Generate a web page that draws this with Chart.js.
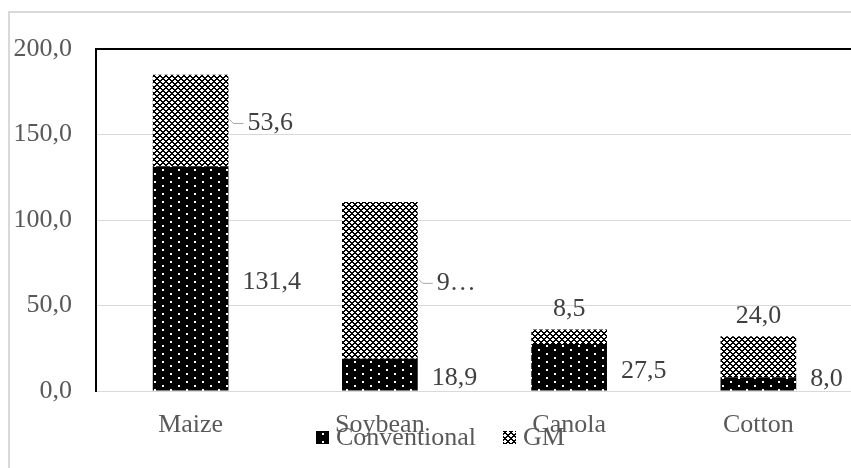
<!DOCTYPE html>
<html>
<head>
<meta charset="utf-8">
<script src="https://cdn.jsdelivr.net/npm/chart.js@4"></script>
<style>
  html, body { margin: 0; padding: 0; overflow: hidden; background: #fff; width: 851px; height: 468px; }
  #frame { position: absolute; left: 8px; top: 11px; width: 900px; height: 500px; border: 2px solid #d9d9d9; }
  #wrap { position: absolute; left: 0; top: 0; width: 870px; height: 468px; }
</style>
</head>
<body>
<div id="frame"></div>
<div id="wrap"><canvas id="chart"></canvas></div>
<script>
const categories = ['Maize', 'Soybean', 'Canola', 'Cotton'];
const conventional = [131.4, 18.9, 27.5, 8.0];
const gm = [53.6, 91.6, 8.5, 24.0];
const gmTruncated = [false, true, false, false];   // Soybean label is cut off in the original
const seriesNames = ['Conventional', 'GM'];
const yMin = 0, yMax = 200, yStep = 50;

const FONT = '"Liberation Serif", "Times New Roman", serif';

function fmt(v) {
  return v.toFixed(1).replace('.', ',');
}

// black with small white dots
function dotPattern() {
  const c = document.createElement('canvas');
  c.width = 16; c.height = 8;
  const g = c.getContext('2d');
  g.fillStyle = '#000';
  g.fillRect(0, 0, 16, 8);
  g.fillStyle = '#fff';
  g.fillRect(2, 1, 2, 2);
  g.fillRect(10, 5, 2, 2);
  return g.createPattern(c, 'repeat');
}

// black diagonal cross-hatch (white diamonds)
function hatchPattern() {
  const c = document.createElement('canvas');
  c.width = 6; c.height = 6;
  const g = c.getContext('2d');
  g.fillStyle = '#fff';
  g.fillRect(0, 0, 6, 6);
  g.fillStyle = '#000';
  for (let x = 0; x < 6; x++) {
    for (let y = 0; y < 6; y++) {
      if ((x + y) % 6 < 2 || (x - y + 6) % 6 < 2) g.fillRect(x, y, 1, 1);
    }
  }
  return g.createPattern(c, 'repeat');
}

const convFill = dotPattern();
const gmFill = hatchPattern();

const labelPlugin = {
  id: 'barLabels',
  afterDatasetsDraw(chart) {
    const ctx = chart.ctx;
    ctx.save();
    ctx.font = '26px ' + FONT;
    ctx.fillStyle = '#404040';
    ctx.textBaseline = 'middle';

    const convMeta = chart.getDatasetMeta(0);
    convMeta.data.forEach((bar, i) => {
      const right = bar.x + bar.width / 2;
      const cy = Math.min((bar.y + bar.base) / 2 + 4, chart.chartArea.bottom - 12);
      ctx.textAlign = 'left';
      ctx.fillText(fmt(conventional[i]), right + 14, cy);
    });

    const gmMeta = chart.getDatasetMeta(1);
    gmMeta.data.forEach((bar, i) => {
      const right = bar.x + bar.width / 2;
      const h = bar.base - bar.y;
      let txt = fmt(gm[i]);
      if (gmTruncated[i]) txt = txt.charAt(0) + '\u2026';
      if (h > 60) {
        const cy = (bar.y + bar.base) / 2 + 3;
        ctx.strokeStyle = '#a6a6a6';
        ctx.lineWidth = 1;
        ctx.beginPath();
        ctx.moveTo(right + 1, cy - 4);
        ctx.lineTo(right + 5, cy);
        ctx.lineTo(right + 15, cy);
        ctx.stroke();
        ctx.textAlign = 'left';
        ctx.fillText(txt, right + 19, cy);
      } else {
        ctx.textAlign = 'center';
        ctx.fillText(txt, bar.x, bar.y - 20);
      }
    });

    // legend
    const fills = [convFill, gmFill];
    const legendX = [316, 503];
    ctx.textAlign = 'left';
    seriesNames.forEach((name, i) => {
      ctx.fillStyle = fills[i];
      ctx.fillRect(legendX[i], 431, 13, 13);
      ctx.fillStyle = '#595959';
      ctx.fillText(name, legendX[i] + 20, 438);
    });
    ctx.restore();
  }
};

new Chart(document.getElementById('chart'), {
  type: 'bar',
  data: {
    labels: categories,
    datasets: [
      { label: seriesNames[0], data: conventional, backgroundColor: convFill, borderWidth: 0 },
      { label: seriesNames[1], data: gm, backgroundColor: gmFill, borderWidth: 0 }
    ]
  },
  options: {
    responsive: true,
    maintainAspectRatio: false,
    devicePixelRatio: 1,
    animation: false,
    layout: { padding: { left: 0, top: 49, right: 17, bottom: 0 } },
    datasets: { bar: { barPercentage: 0.4, categoryPercentage: 1 } },
    plugins: { legend: { display: false }, tooltip: { enabled: false } },
    scales: {
      x: {
        stacked: true,
        grid: { display: false },
        border: { color: '#d9d9d9', width: 1 },
        ticks: { color: '#595959', font: { family: FONT, size: 26 }, padding: 11 },
        afterFit(s) { s.height = 77; }
      },
      y: {
        stacked: true,
        min: yMin,
        max: yMax,
        ticks: {
          stepSize: yStep,
          color: '#595959',
          font: { family: FONT, size: 26 },
          padding: 24,
          callback: v => fmt(v)
        },
        grid: {
          drawTicks: false,
          color: c => c.tick && c.tick.value === yMax ? '#000' : '#d9d9d9',
          lineWidth: c => c.tick && c.tick.value === yMax ? 2 : 1
        },
        border: { color: '#000', width: 2 },
        afterFit(s) { s.width = 96; }
      }
    }
  },
  plugins: [labelPlugin]
});
</script>
</body>
</html>
